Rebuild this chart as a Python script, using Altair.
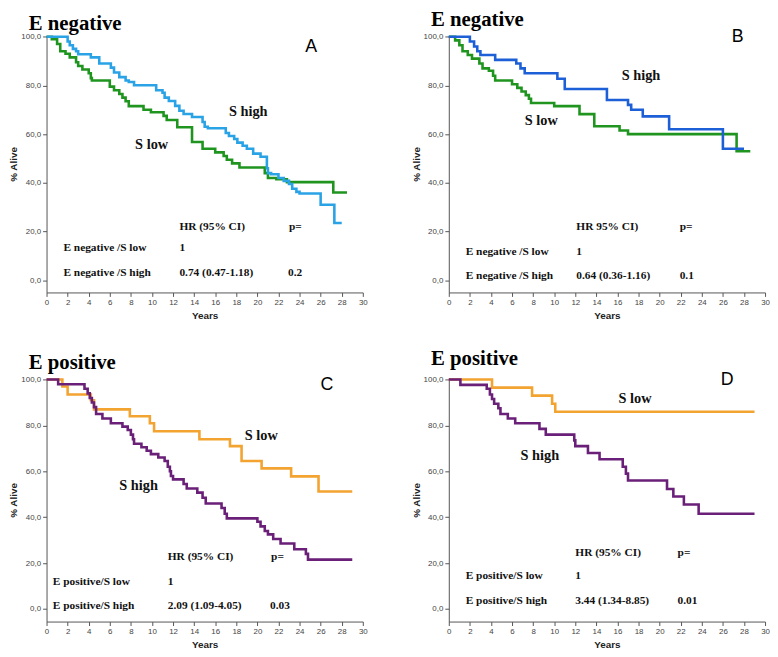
import altair as alt
import pandas as pd

# ---------------- Kaplan-Meier step data (years, % alive) ----------------
A_high_t = [0, 2.0, 2.2, 2.5, 2.8, 3.0, 4.2, 5.0, 6.1, 6.4, 6.9, 7.5, 7.8, 8.3, 10.4, 11.0, 11.2, 11.6, 12.2, 12.6,
            13.0, 13.8, 14.8, 15.0, 15.3, 17.0, 17.3, 17.8, 18.1, 18.6, 19.0, 19.6, 20.3, 20.9, 21.0, 21.3, 22.0, 22.5,
            23.0, 23.3, 23.7, 24.0, 26.0, 27.3, 28.0]
A_high_s = [100, 98, 96.5, 95, 94, 92.8, 91.5, 89, 87.3, 85.3, 83.4, 82, 81.4, 80.1, 78, 77, 75, 73.6, 71.6, 69.6,
            68.3, 67, 65, 63, 62.4, 60.5, 59.2, 58, 56.5, 55.2, 54, 52, 50.7, 46, 44, 43.5, 42, 40.8,
            39.5, 37.6, 36.3, 35.6, 31, 23.5, 23.5]
A_low_t = [0, 0.5, 1.0, 1.3, 1.8, 2.2, 2.8, 3.0, 3.4, 4.0, 4.2, 4.3, 6.0, 6.4, 6.9, 7.2, 7.5, 7.8, 9.2, 9.9,
           11.1, 11.4, 12.4, 13.8, 14.8, 16.0, 16.8, 17.1, 17.6, 18.3, 20.7, 21.0, 21.8, 22.8, 27.2, 28.5]
A_low_s = [100, 99, 97, 94, 93, 91.5, 89.5, 88, 86.5, 85, 83, 82, 79.5, 78, 76.5, 75, 73.5, 71.5, 70, 69,
           67.5, 65.8, 62.8, 56.8, 54, 52.5, 51, 49.5, 48, 46.3, 44, 42, 41.5, 40.3, 36, 36]

B_high_t = [0, 2.0, 2.4, 2.7, 3.0, 4.4, 6.4, 6.8, 7.2, 10.3, 11.0, 15.0, 17.0, 17.3, 18.4, 20.9, 26.0, 28.0]
B_high_s = [100, 98, 96, 94, 92.5, 90.5, 89, 87, 85, 82.7, 78.5, 74, 72, 70, 67.3, 62, 54, 54]
B_low_t = [0, 0.6, 1.0, 1.3, 1.8, 2.2, 2.9, 3.2, 3.8, 4.2, 4.4, 6.0, 6.5, 6.9, 7.3, 7.6, 7.8, 10.0, 12.4, 13.8,
           16.2, 17.0, 27.3, 28.6]
B_low_s = [100, 98.5, 96.5, 94, 92.5, 91, 89, 87, 86, 84, 82, 80.5, 79, 77.5, 76, 74.5, 72.8, 71.5, 68.2, 63.2,
           61.5, 60, 53, 53]

C_low_t = [0, 1.5, 2.0, 4.2, 4.5, 7.9, 9.8, 10.2, 14.5, 17.4, 18.5, 20.4, 23.2, 25.8, 29.0]
C_low_s = [100, 97, 93.5, 91, 87, 84, 81, 77.5, 74, 71, 64.5, 61.3, 57.8, 51.2, 51.2]
C_high_t = [0, 1.1, 3.6, 3.9, 4.1, 4.3, 4.5, 4.7, 5.3, 6.1, 7.2, 7.7, 8.0, 8.2, 8.3, 9.0, 9.5, 9.9, 10.6, 11.2,
            11.5, 11.7, 11.8, 12.0, 13.0, 13.3, 14.3, 14.8, 15.1, 16.6, 16.9, 17.1, 20.0, 20.3, 20.7, 21.0, 21.5,
            22.2, 23.5, 24.6, 24.8, 29.0]
C_high_s = [100, 98, 96, 94, 92, 90, 88, 85, 83, 81, 79.5, 78, 76, 74, 72, 70.5, 69, 67.5, 66, 64.5,
            62, 60, 58, 56.5, 54.5, 52.5, 50.7, 48.5, 46, 44, 41.5, 39.5, 38, 36, 34, 32.5, 30.5,
            28.5, 26, 24, 21.5, 21.5]

D_low_t = [0, 4.1, 7.9, 9.8, 10.1, 29.0]
D_low_s = [100, 96.5, 93, 89.5, 86, 86]
D_high_t = [0, 1.1, 3.6, 3.9, 4.1, 4.3, 4.7, 4.9, 5.6, 6.3, 8.6, 9.2, 11.9, 12.0, 13.2, 14.3, 16.5, 16.8, 17.0,
            20.7, 21.3, 22.3, 23.7, 29.0]
D_high_s = [100, 97.7, 96, 93.5, 91.5, 89.5, 87.5, 85, 83, 81, 78.5, 76, 73.5, 71, 68, 65.3, 62, 59, 56,
            52.3, 49, 45.5, 41.5, 41.5]

# ---------------- text content ----------------
panel_titles = ["E negative", "E negative", "E positive", "E positive"]
panel_letters = ["A", "B", "C", "D"]
letter_t = [25.1, 27.4, 26.6, 26.4]
letter_s = [95.7, 99.8, 97.7, 99.8]

# curve labels: text, t, s
A_lab = (["S high", "S low"], [17.3, 8.4], [69, 55.7])
B_lab = (["S high", "S low"], [16.4, 7.2], [84, 65.5])
C_lab = (["S low", "S high"], [18.8, 6.9], [75.4, 53.4])
D_lab = (["S low", "S high"], [16.1, 6.8], [91.4, 66.5])

# HR tables
A_tab = (["HR (95% CI)", "p=", "E negative /S low", "1", "E negative /S high", "0.74  (0.47-1.18)", "0.2"],
         [12.6, 23.0, 1.6, 12.6, 1.6, 12.6, 22.9], [22, 22, 13.3, 13.3, 3.1, 3.1, 3.1])
B_tab = (["HR 95% CI)", "p=", "E negative /S low", "1", "E negative /S high", "0.64  (0.36-1.16)", "0.1"],
         [12.1, 21.9, 1.6, 12.1, 1.6, 12.1, 21.9], [21.7, 21.7, 11.6, 11.6, 1.6, 1.6, 1.6])
C_tab = (["HR (95% CI)", "p=", "E positive/S low", "1", "E positive/S high", "2.09 (1.09-4.05)", "0.03"],
         [11.5, 21.3, 0.6, 11.5, 0.6, 11.5, 21.2], [22.5, 22.5, 11.9, 11.9, 1.3, 1.3, 1.3])
D_tab = (["HR (95% CI)", "p=", "E positive/S low", "1", "E positive/S high", "3.44 (1.34-8.85)", "0.01"],
         [12.0, 21.7, 1.6, 12.0, 1.6, 12.0, 21.7], [24.5, 24.5, 14.2, 14.2, 3.4, 3.4, 3.4])

x_ticks = list(range(0, 31, 2))
y_ticks = [0, 20, 40, 60, 80, 100]

GREEN = "#1f951f"
LBLUE = "#2aa2e6"
DBLUE = "#1c5fd6"
ORANGE = "#f2a330"
PURPLE = "#6a1f78"


def curve_df(t, s, name):
    return pd.DataFrame({"t": t, "s": s, "series": name})


def text_df(spec):
    txt, t, s = spec
    return pd.DataFrame({"label": txt, "t": t, "s": s})


def panel(curves, colors, lab, tab, idx, width, height, ymin, toffset):
    lines_df = pd.concat([curve_df(*c) for c in curves], ignore_index=True)
    names = [c[2] for c in curves]
    xs = alt.Scale(domain=[0, 30], nice=False, zero=False)
    ys = alt.Scale(domain=[ymin, 100.5], nice=False, zero=False)
    xenc = alt.X("t:Q", scale=xs, axis=alt.Axis(values=x_ticks, title="Years", labelFlush=False,
                                                  labelOverlap=False, labelBound=False))
    yenc = alt.Y("s:Q", scale=ys, axis=alt.Axis(values=y_ticks, title="% Alive", labelOverlap=False,
                                                  titlePadding=2,
                                                  labelExpr="replace(format(datum.value, '.1f'), '.', ',')"))
    lines = alt.Chart(lines_df).mark_line(interpolate="step-after", strokeWidth=2.6).encode(
        x=xenc, y=yenc,
        color=alt.Color("series:N", scale=alt.Scale(domain=names, range=colors), legend=None),
    )
    labels = alt.Chart(text_df(lab)).mark_text(
        align="left", baseline="middle", font="Liberation Serif", fontWeight="bold",
        fontSize=14.5, color="#111"
    ).encode(x=xenc, y=yenc, text="label:N")
    table = alt.Chart(text_df(tab)).mark_text(
        align="left", baseline="middle", font="Liberation Serif", fontWeight="bold",
        fontSize=11.5, color="#111"
    ).encode(x=xenc, y=yenc, text="label:N")
    letter = alt.Chart(pd.DataFrame({"label": [panel_letters[idx]], "t": [letter_t[idx]],
                                     "s": [letter_s[idx]]})).mark_text(
        align="center", baseline="middle", font="Liberation Sans", fontSize=18, color="#000"
    ).encode(x=xenc, y=yenc, text="label:N")
    return alt.layer(lines, labels, table, letter).properties(
        width=width, height=height,
        title=alt.TitleParams(panel_titles[idx], font="Liberation Serif", fontSize=21,
                              fontWeight="bold", anchor="start", dx=20, offset=toffset, color="#000"),
    )


pA = panel([(A_low_t, A_low_s, "S low"), (A_high_t, A_high_s, "S high")], [GREEN, LBLUE],
           A_lab, A_tab, 0, 320, 260, -5, -2)
pB = panel([(B_low_t, B_low_s, "S low"), (B_high_t, B_high_s, "S high")], [GREEN, DBLUE],
           B_lab, B_tab, 1, 320, 260, -5, -2)
pC = panel([(C_low_t, C_low_s, "S low"), (C_high_t, C_high_s, "S high")], [ORANGE, PURPLE],
           C_lab, C_tab, 2, 320, 246, -5.5, 2)
pD = panel([(D_low_t, D_low_s, "S low"), (D_high_t, D_high_s, "S high")], [ORANGE, PURPLE],
           D_lab, D_tab, 3, 320, 246, -5.5, 2)

chart = alt.vconcat(
    alt.hconcat(pA, pB, spacing=43).resolve_scale(color="independent"),
    alt.hconcat(pC, pD, spacing=43).resolve_scale(color="independent"),
    spacing=28,
).resolve_scale(color="independent").configure_view(stroke=None).configure_axis(
    grid=False,
    domainColor="#555",
    tickColor="#555",
    tickSize=4,
    labelFont="Liberation Sans",
    labelFontSize=8,
    labelColor="#444",
    labelOverlap=False,
    titleFont="Liberation Sans",
    titleFontSize=10,
    titleFontWeight="bold",
    titleColor="#222",
    titlePadding=4,
    labelPadding=2,
).properties(background="white", padding={"top": -3, "left": 0, "right": 0, "bottom": 0})

chart.save("out.html", embed_options={"renderer": "svg", "actions": False})
